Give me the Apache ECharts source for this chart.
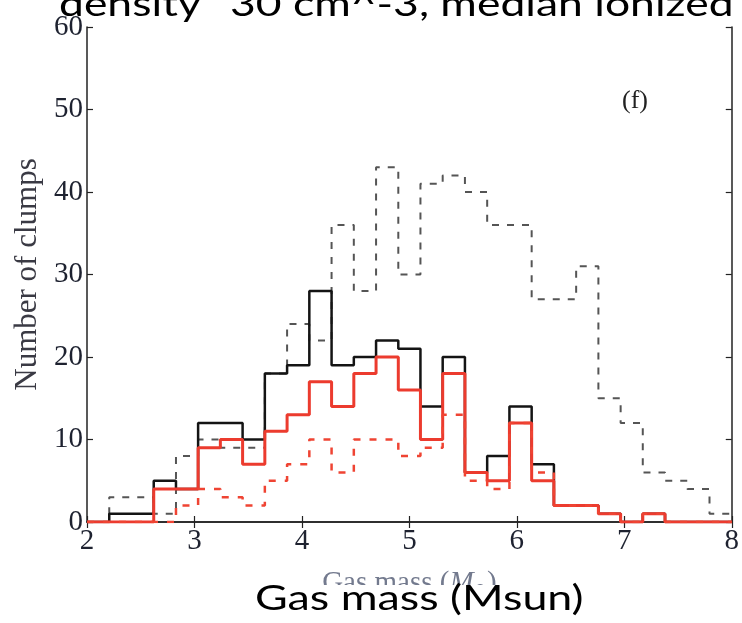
<!DOCTYPE html>
<html>
<head>
<meta charset="utf-8">
<script src="https://cdn.jsdelivr.net/npm/echarts@6/dist/echarts.min.js"></script>
<style>
html,body{margin:0;padding:0;background:#fff;}
#chart{width:742px;height:623px;}
</style>
</head>
<body>
<div id="chart"></div>
<script>
// Bin edges (29 bins from 2 to 8)
const binEdges = [2.000, 2.207, 2.414, 2.621, 2.828, 3.034, 3.241, 3.448, 3.655, 3.862,
                  4.069, 4.276, 4.483, 4.690, 4.897, 5.103, 5.310, 5.517, 5.724, 5.931,
                  6.138, 6.345, 6.552, 6.759, 6.966, 7.172, 7.379, 7.586, 7.793, 8.000];
// Counts per bin
const grayDashed = [0, 3, 3, 1, 8, 10, 9, 9, 18, 24, 22, 36, 28, 43, 30, 41, 42, 40, 36, 36, 27, 27, 31, 15, 12, 6, 5, 4, 1];
const blackSolid = [0, 1, 1, 5, 4, 12, 12, 10, 18, 19, 28, 19, 20, 22, 21, 14, 20, 6, 8, 14, 7, 2, 2, 1, 0, 1, 0, 0, 0];
const redSolid   = [0, 0, 0, 4, 4, 9, 10, 7, 11, 13, 17, 14, 18, 20, 16, 10, 18, 6, 5, 12, 5, 2, 2, 1, 0, 1, 0, 0, 0];
const redDashed  = [0, 0, 0, 0, 2, 4, 3, 2, 5, 7, 10, 6, 10, 10, 8, 9, 13, 5, 4, 12, 6, 2, 2, 1, 0, 1, 0, 0, 0];
const xTicks = [2, 3, 4, 5, 6, 7, 8];
const yTicks = [0, 10, 20, 30, 40, 50, 60];

const topText = 'density \u02DC30 cm^-3, median ionized';
const bottomText = 'Gas mass (Msun)';
const panelLabel = '(f)';

function stepData(vals) {
  const d = binEdges.slice(0, vals.length).map((e, i) => [e, vals[i]]);
  d.push([binEdges[vals.length], vals[vals.length - 1]]);
  return d;
}

const chart = echarts.init(document.getElementById('chart'), null, {renderer: 'canvas'});
const serif = 'Liberation Serif';
const axisCommon = {
  axisLine: {show: true, lineStyle: {color: '#222', width: 1.5}},
  axisTick: {show: true, inside: true, length: 6, lineStyle: {color: '#222', width: 1.2}},
  splitLine: {show: false}
};
const nameColor = '#737a8e';
const option = {
  backgroundColor: '#fff',
  animation: false,
  grid: {left: 87, right: 10, top: 27, bottom: 101},
  xAxis: [
    Object.assign({
      type: 'value', min: xTicks[0], max: xTicks[xTicks.length - 1], interval: 1, position: 'bottom',
      axisLabel: {fontFamily: serif, fontSize: 29, color: '#1e2230', margin: 5},
      name: '{a|Gas mass (}{i|M}{s|\u2299}{a|)}', nameLocation: 'middle', nameGap: 46,
      nameTextStyle: {
        fontFamily: serif, fontSize: 29, color: nameColor,
        rich: {
          a: {fontFamily: serif, fontSize: 29, color: nameColor},
          i: {fontFamily: serif, fontSize: 29, fontStyle: 'italic', color: nameColor},
          s: {fontFamily: 'DejaVu Serif', fontSize: 16, color: nameColor, verticalAlign: 'bottom', padding: [14, 0, 0, 0]}
        }
      }
    }, axisCommon),
    Object.assign({
      type: 'value', min: xTicks[0], max: xTicks[xTicks.length - 1], interval: 1, position: 'top',
      axisLabel: {show: false}
    }, axisCommon)
  ],
  yAxis: [
    Object.assign({
      type: 'value', min: yTicks[0], max: yTicks[yTicks.length - 1], interval: 10, position: 'left',
      axisLabel: {fontFamily: serif, fontSize: 29, color: '#1e2230', margin: 4},
      name: 'Number of clumps', nameLocation: 'middle', nameRotate: 90, nameGap: 41,
      nameTextStyle: {fontFamily: serif, fontSize: 31, color: '#3a3a44'}
    }, axisCommon),
    Object.assign({
      type: 'value', min: yTicks[0], max: yTicks[yTicks.length - 1], interval: 10, position: 'right',
      axisLabel: {show: false}
    }, axisCommon)
  ],
  series: [
    {type: 'line', step: 'end', data: stepData(grayDashed), showSymbol: false, z: 3,
     lineStyle: {color: '#555', width: 2, type: [7, 8]}},
    {type: 'line', step: 'end', data: stepData(blackSolid), showSymbol: false, z: 4,
     lineStyle: {color: '#141414', width: 2.5}},
    {type: 'line', step: 'end', data: stepData(redSolid), showSymbol: false, z: 5,
     lineStyle: {color: '#ec3b2e', width: 3}},
    {type: 'line', step: 'end', data: stepData(redDashed), showSymbol: false, z: 6,
     lineStyle: {color: '#ef4433', width: 2.5, type: [7, 9]}}
  ],
  graphic: [
    {type: 'text', left: 622, top: 88, z: 10,
     style: {text: panelLabel, font: '26px "Liberation Serif"', fill: '#222'}},
    {type: 'rect', shape: {x: 0, y: 0, width: 742, height: 14}, z: 20, style: {fill: '#fff'}},
    {type: 'text', x: 59, y: -13, scaleX: 1.27, z: 21,
     style: {text: topText, x: 0, y: 0, font: '35px Lato', fill: '#000', verticalAlign: 'top', align: 'left'}},
    {type: 'rect', shape: {x: 230, y: 585, width: 380, height: 38}, z: 20, style: {fill: '#fff'}},
    {type: 'text', x: 255, y: 581, scaleX: 1.28, z: 21,
     style: {text: bottomText, x: 0, y: 0, font: '35px Lato', fill: '#000', verticalAlign: 'top', align: 'left'}}
  ]
};
chart.setOption(option);
</script>
</body>
</html>
